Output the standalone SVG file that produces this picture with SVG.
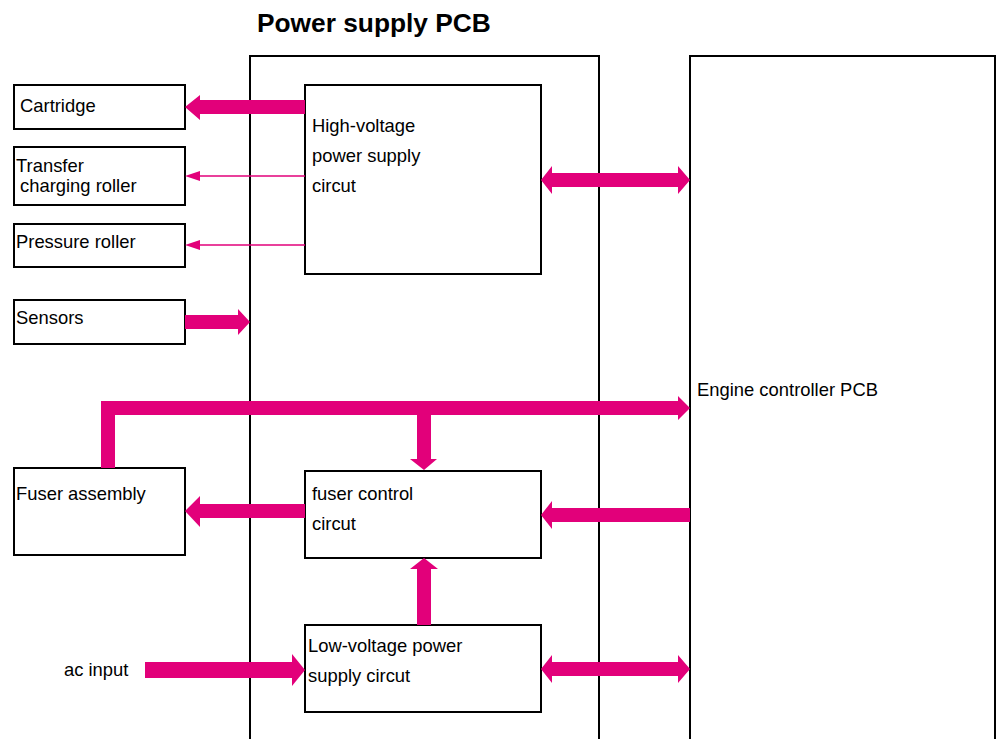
<svg xmlns="http://www.w3.org/2000/svg" width="996" height="739" viewBox="0 0 996 739">
<style>
.box{fill:#fff;stroke:#000;stroke-width:2}
.big{fill:none;stroke:#000;stroke-width:2}
.t{font-family:"Liberation Sans",Arial,sans-serif;font-size:18.4px;fill:#000}
.title{font-family:"Liberation Sans",Arial,sans-serif;font-size:26.3px;font-weight:bold;fill:#000}
.a{fill:#e2007a;stroke:none}
.thin{stroke:#e2007a;stroke-width:1.3;fill:none}
</style>
<rect width="996" height="739" fill="#fff"/>
<text class="title" x="257" y="32">Power supply PCB</text>
<g id="power-supply-pcb"><rect class="big" x="250" y="56" width="349" height="700"/></g>
<g id="engine-controller-pcb"><rect class="big" x="690" y="56" width="305" height="700"/><text class="t" x="697" y="396">Engine controller PCB</text></g>
<g id="cartridge"><rect class="box" x="14" y="85" width="171" height="44"/><text class="t" x="20" y="112">Cartridge</text></g>
<g id="transfer"><rect class="box" x="14" y="147" width="171" height="58"/><text class="t" x="16" y="172">Transfer</text><text class="t" x="20" y="192">charging roller</text></g>
<g id="pressure"><rect class="box" x="14" y="224" width="171" height="43"/><text class="t" x="16" y="248">Pressure roller</text></g>
<g id="sensors"><rect class="box" x="14" y="300" width="171" height="44"/><text class="t" x="16" y="324">Sensors</text></g>
<g id="fuser-assembly"><rect class="box" x="14" y="468" width="171" height="87"/><text class="t" x="16" y="500">Fuser assembly</text></g>
<g id="hv"><rect class="box" x="305" y="85" width="236" height="189"/><text class="t" x="312" y="132">High-voltage</text><text class="t" x="312" y="162">power supply</text><text class="t" x="312" y="192">circut</text></g>
<g id="fuser-control"><rect class="box" x="305" y="471" width="236" height="87"/><text class="t" x="312" y="500">fuser control</text><text class="t" x="312" y="530">circut</text></g>
<g id="lv"><rect class="box" x="305" y="625" width="236" height="87"/><text class="t" x="308" y="652">Low-voltage power</text><text class="t" x="308" y="682">supply circut</text></g>
<g id="ac-input"><text class="t" x="64" y="676">ac input</text></g>
<g id="connectors">
<polygon class="a" points="305,100 200,100 200,95 185,107 200,120 200,114 305,114"/>
<line class="thin" x1="305" y1="176" x2="198" y2="176"/>
<polygon class="a" points="185,176 200,171 200,181"/>
<line class="thin" x1="305" y1="245" x2="198" y2="245"/>
<polygon class="a" points="185,245 200,240 200,250"/>
<polygon class="a" points="185,315 238,315 238,309 250,322 238,335 238,329 185,329"/>
<polygon class="a" points="552,173 678,173 678,166 690,180 678,194 678,187 552,187 552,194 541,180 552,166"/>
<polygon class="a" points="101,468 101,401 678,401 678,396 690,408 678,420 678,415 431,415 431,459 437,459 424,470 410,459 417,459 417,415 115,415 115,468"/>
<polygon class="a" points="305,504 200,504 200,496 185,511 200,527 200,518 305,518"/>
<polygon class="a" points="690,508 552,508 552,501 541,515 552,529 552,522 690,522"/>
<polygon class="a" points="417,625 417,569 410,569 424,558 438,569 431,569 431,625"/>
<polygon class="a" points="145,662 292,662 292,654 305,670 292,686 292,678 145,678"/>
<polygon class="a" points="552,662 678,662 678,655 690,669 678,683 678,676 552,676 552,683 541,669 552,655"/>
</g>
</svg>
